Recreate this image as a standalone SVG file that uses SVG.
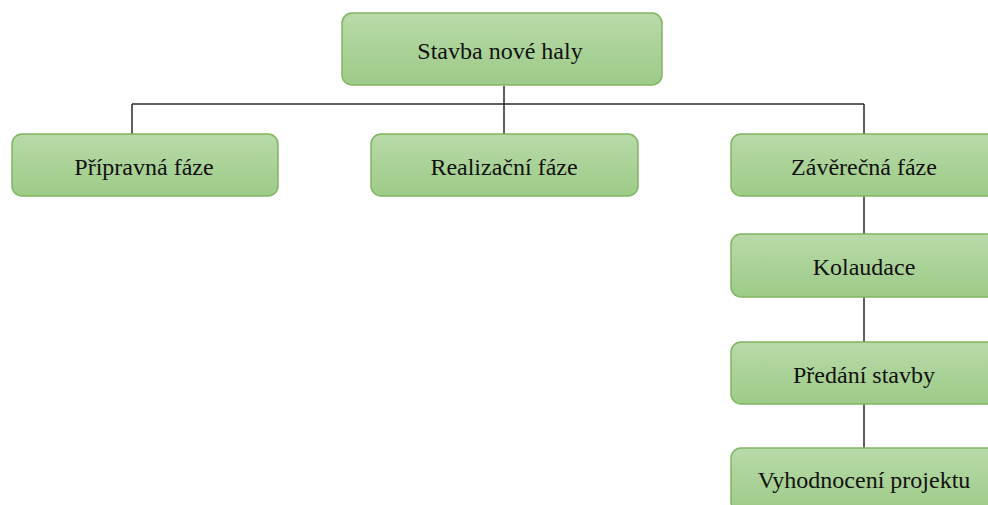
<svg xmlns="http://www.w3.org/2000/svg" width="988" height="505" viewBox="0 0 988 505">
  <defs>
    <linearGradient id="boxFill" x1="0" y1="0" x2="0" y2="1">
      <stop offset="0" stop-color="#b8daa9"/>
      <stop offset="1" stop-color="#9dcb87"/>
    </linearGradient>
    <style>
      .box { fill: url(#boxFill); stroke: #80b562; stroke-width: 1.5; }
      .label { font-family: "Liberation Serif", "Times New Roman", serif; font-size: 24px; fill: #111111; text-anchor: middle; }
      .link { stroke: #2b2b2b; stroke-width: 1.5; fill: none; }
    </style>
  </defs>
  <rect width="988" height="505" fill="#ffffff"/>

  <g id="connectors">
    <path class="link" d="M504 86 V104 M132 104 H864 M132 104 V134 M504 104 V134 M864 104 V134"/>
    <path class="link" d="M864 196 V234 M864 297 V342 M864 404 V448"/>
  </g>

  <g id="root">
    <rect class="box" x="342" y="13" width="320" height="72" rx="10"/>
    <text class="label" x="500" y="59">Stavba nové haly</text>
  </g>

  <g id="pripravna">
    <rect class="box" x="12" y="134" width="266" height="62" rx="10"/>
    <text class="label" x="144" y="175">Přípravná fáze</text>
  </g>

  <g id="realizacni">
    <rect class="box" x="371" y="134" width="267" height="62" rx="10"/>
    <text class="label" x="504" y="175">Realizační fáze</text>
  </g>

  <g id="zaverecna">
    <rect class="box" x="731" y="134" width="266" height="62" rx="10"/>
    <text class="label" x="864" y="175">Závěrečná fáze</text>
  </g>

  <g id="kolaudace">
    <rect class="box" x="731" y="234" width="266" height="63" rx="10"/>
    <text class="label" x="864" y="275">Kolaudace</text>
  </g>

  <g id="predani">
    <rect class="box" x="731" y="342" width="266" height="62" rx="10"/>
    <text class="label" x="864" y="383">Předání stavby</text>
  </g>

  <g id="vyhodnoceni">
    <rect class="box" x="731" y="448" width="266" height="64" rx="10"/>
    <text class="label" x="864" y="488">Vyhodnocení projektu</text>
  </g>
</svg>
